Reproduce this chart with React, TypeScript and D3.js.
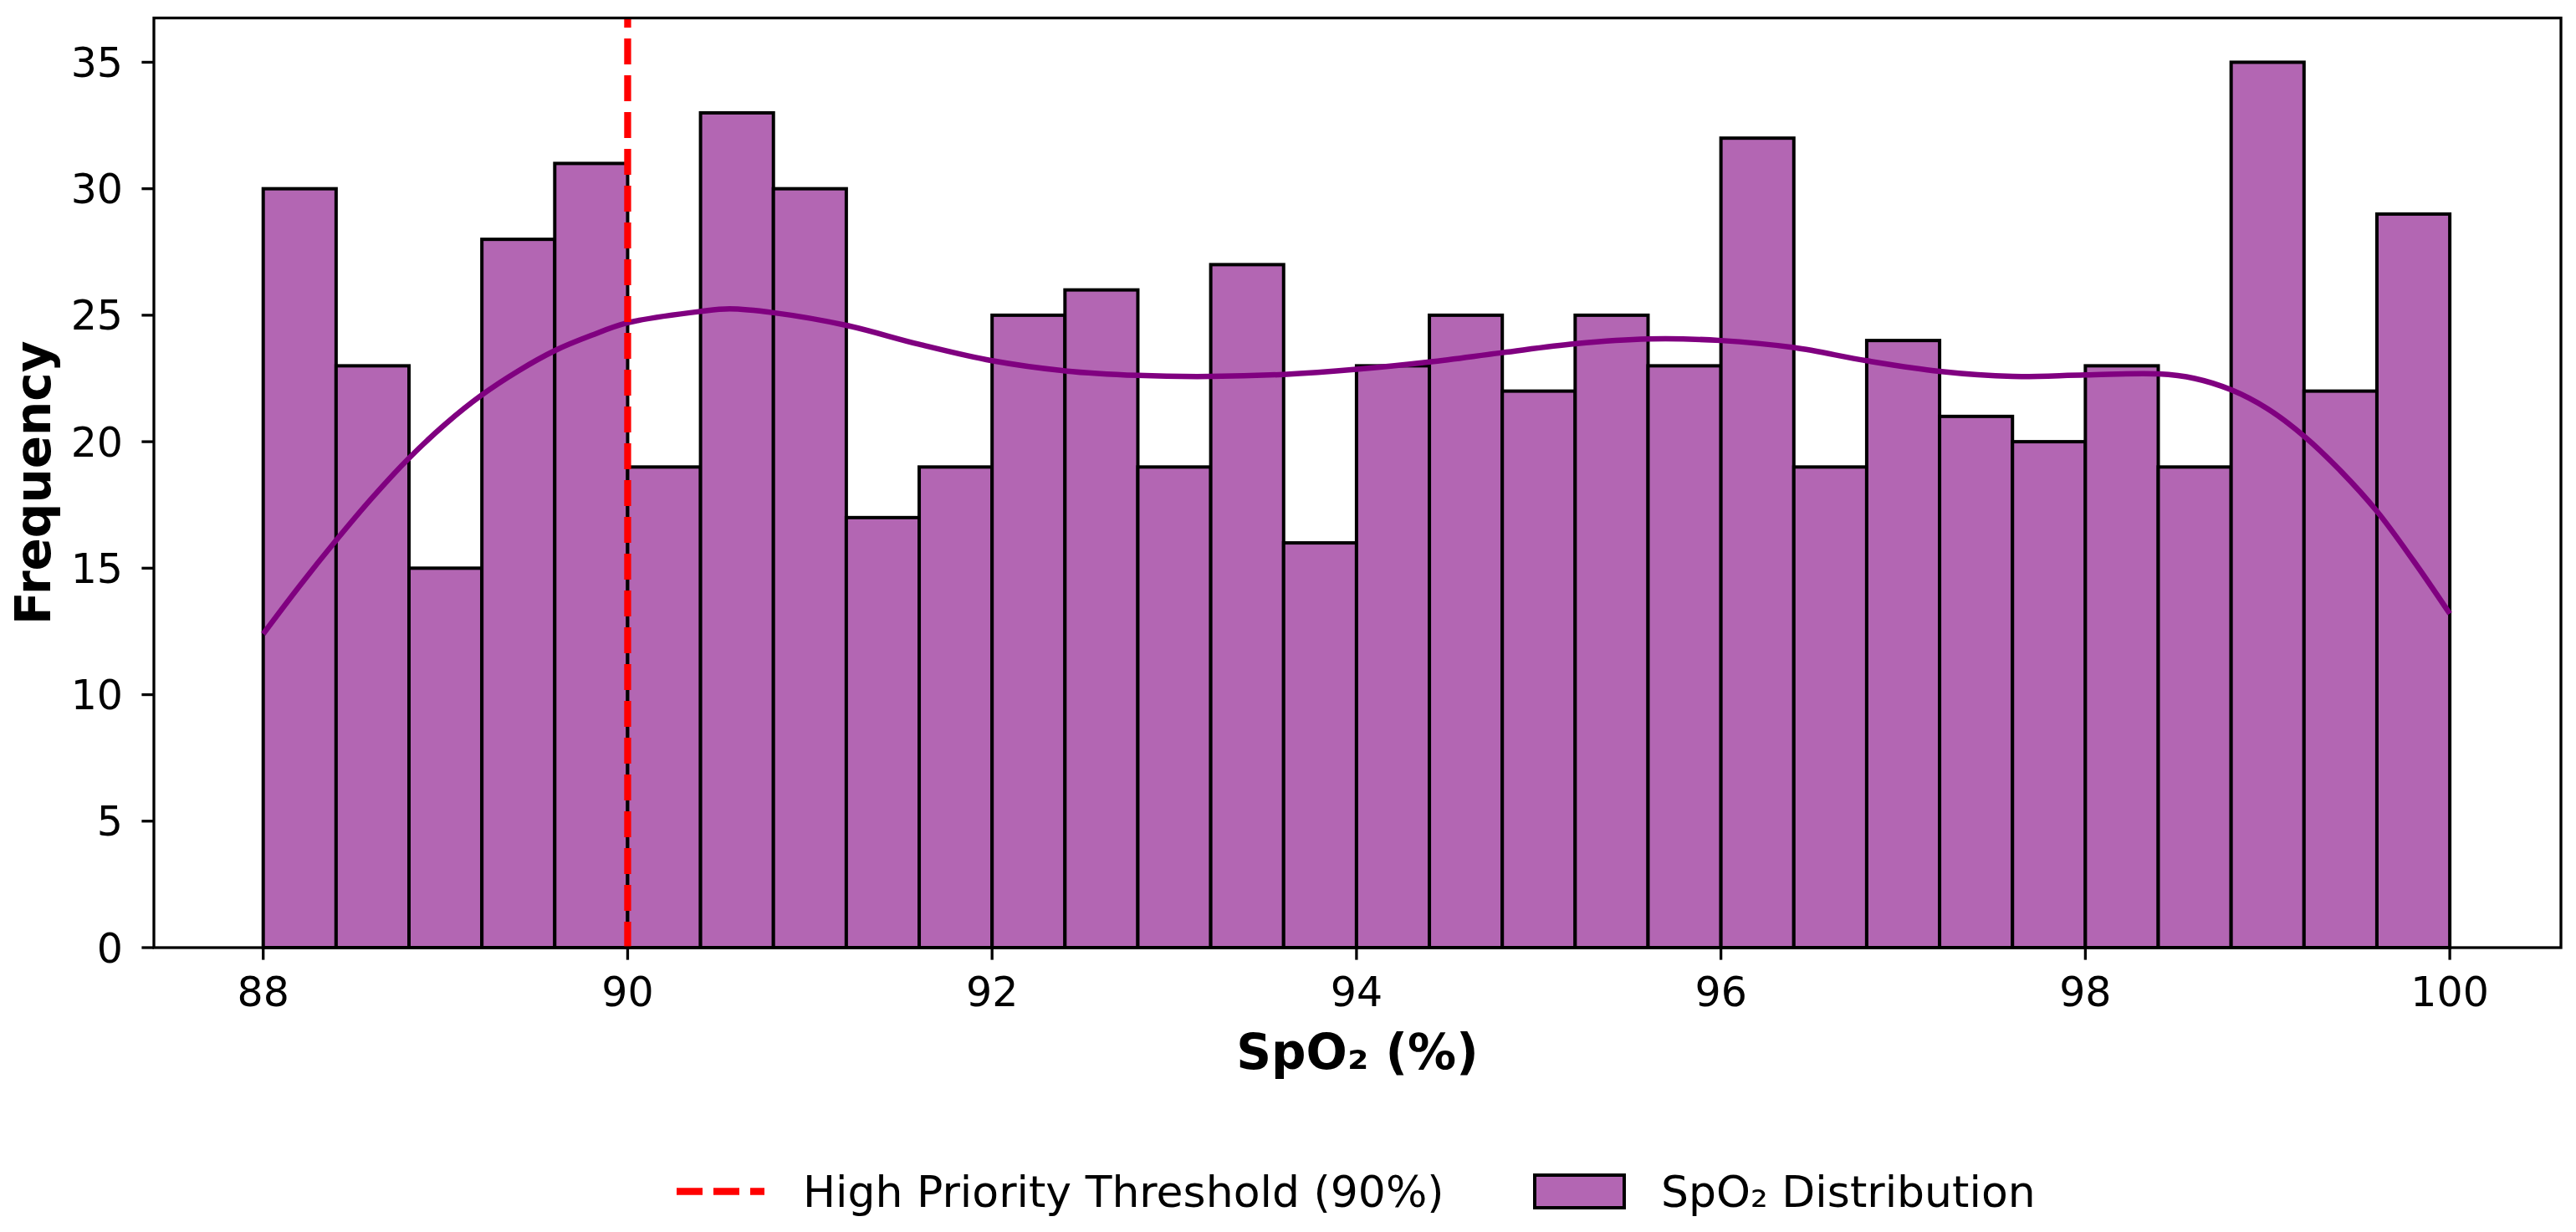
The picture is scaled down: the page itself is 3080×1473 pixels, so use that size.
import React from "react";
import * as d3 from "d3";

// ---- data ----
const binEdges = [88.0, 88.4, 88.8, 89.2, 89.6, 90.0, 90.4, 90.8, 91.2, 91.6, 92.0, 92.4, 92.8, 93.2, 93.6, 94.0, 94.4, 94.8, 95.2, 95.6, 96.0, 96.4, 96.8, 97.2, 97.6, 98.0, 98.4, 98.8, 99.2, 99.6, 100.0];
const counts = [30, 23, 15, 28, 31, 19, 33, 30, 17, 19, 25, 26, 19, 27, 16, 23, 25, 22, 25, 23, 32, 19, 24, 21, 20, 23, 19, 35, 22, 29];
const kdeX = [88.0, 88.2, 88.4, 88.6, 88.8, 89.0, 89.2, 89.4, 89.6, 89.8, 90.0, 90.4, 90.56, 90.8, 91.2, 91.6, 92.0, 92.4, 92.8, 93.2, 93.6, 94.0, 94.4, 94.8, 95.2, 95.6, 96.0, 96.4, 96.8, 97.2, 97.6, 98.0, 98.4, 98.6, 98.8, 99.0, 99.2, 99.4, 99.6, 99.8, 100.0];
const kdeY = [12.4, 14.3, 16.1, 17.8, 19.35, 20.7, 21.85, 22.8, 23.6, 24.2, 24.7, 25.15, 25.25, 25.1, 24.6, 23.85, 23.2, 22.8, 22.62, 22.58, 22.66, 22.86, 23.15, 23.52, 23.87, 24.06, 24.0, 23.72, 23.2, 22.78, 22.58, 22.64, 22.68, 22.5, 22.05, 21.3, 20.22, 18.85, 17.25, 15.3, 13.2];
const xTicks = [88, 90, 92, 94, 96, 98, 100];
const yTicks = [0, 5, 10, 15, 20, 25, 30, 35];
const threshold = 90;
const xLabel = "SpO\u2082 (%)";
const yLabel = "Frequency";
const legendLabels = ["High Priority Threshold (90%)", "SpO\u2082 Distribution"];

// ---- layout ----
const W = 3080;
const H = 1473;
const left = 184;
const right = 3062;
const top = 21.5;
const bottom = 1133;
const FONT = "DejaVu Sans, sans-serif";
const BAR_FILL = "#b366b3";
const KDE_COLOR = "#800080";

export default function App() {
  const x = d3.scaleLinear().domain([87.4, 100.61]).range([left, right]);
  const y = d3.scaleLinear().domain([0, 36.75]).range([bottom, top]);

  const kdePts: [number, number][] = kdeX.map((v, i) => [v, kdeY[i]]);
  const kdePath = d3
    .line<[number, number]>()
    .x((d) => x(d[0]))
    .y((d) => y(d[1]))
    .curve(d3.curveCatmullRom.alpha(0.5))(kdePts);

  const spineW = 3.3;
  const tickLen = 14.6;

  return (
    <svg
      width={W}
      height={H}
      viewBox={`0 0 ${W} ${H}`}
      style={{ position: "absolute", left: 0, top: 0, background: "#fff" }}
      fontFamily={FONT}
    >
      <rect x={0} y={0} width={W} height={H} fill="#fff" />
      {/* bars */}
      <g>
        {counts.map((c, i) => (
          <rect
            key={i}
            x={x(binEdges[i])}
            y={y(c)}
            width={x(binEdges[i + 1]) - x(binEdges[i])}
            height={y(0) - y(c)}
            fill={BAR_FILL}
            stroke="#000"
            strokeWidth={4}
          />
        ))}
      </g>
      {/* KDE */}
      <path d={kdePath || ""} fill="none" stroke={KDE_COLOR} strokeWidth={6.5} strokeLinecap="butt" />
      {/* threshold */}
      <line
        x1={x(threshold)}
        x2={x(threshold)}
        y1={bottom}
        y2={top}
        stroke="#ff0000"
        strokeWidth={8.3}
        strokeDasharray="31,13"
      />
      {/* spines */}
      <rect
        x={left}
        y={top}
        width={right - left}
        height={bottom - top}
        fill="none"
        stroke="#000"
        strokeWidth={spineW}
      />
      {/* x ticks */}
      <g>
        {xTicks.map((t) => (
          <g key={t}>
            <line x1={x(t)} x2={x(t)} y1={bottom} y2={bottom + tickLen} stroke="#000" strokeWidth={spineW} />
            <text x={x(t)} y={1203} textAnchor="middle" fontSize={49} fill="#000">
              {t}
            </text>
          </g>
        ))}
      </g>
      {/* y ticks */}
      <g>
        {yTicks.map((t) => (
          <g key={t}>
            <line x1={left - tickLen} x2={left} y1={y(t)} y2={y(t)} stroke="#000" strokeWidth={spineW} />
            <text x={147} y={y(t) + 17.5} textAnchor="end" fontSize={49} fill="#000">
              {t}
            </text>
          </g>
        ))}
      </g>
      {/* axis labels */}
      <text x={(left + right) / 2} y={1278} textAnchor="middle" fontSize={58} fontWeight="bold" fill="#000">
        {xLabel}
      </text>
      <text
        transform={`translate(60, ${(top + bottom) / 2}) rotate(-90)`}
        textAnchor="middle"
        fontSize={58}
        fontWeight="bold"
        fill="#000"
      >
        {yLabel}
      </text>
      {/* legend */}
      <g>
        <line x1={809} x2={914} y1={1424.5} y2={1424.5} stroke="#ff0000" strokeWidth={8.3} strokeDasharray="31,13" />
        <text x={960} y={1443} fontSize={52} fill="#000">
          {legendLabels[0]}
        </text>
        <rect x={1835} y={1405} width={107} height={39} fill={BAR_FILL} stroke="#000" strokeWidth={4} />
        <text x={1986} y={1443} fontSize={52} fill="#000">
          {legendLabels[1]}
        </text>
      </g>
    </svg>
  );
}
